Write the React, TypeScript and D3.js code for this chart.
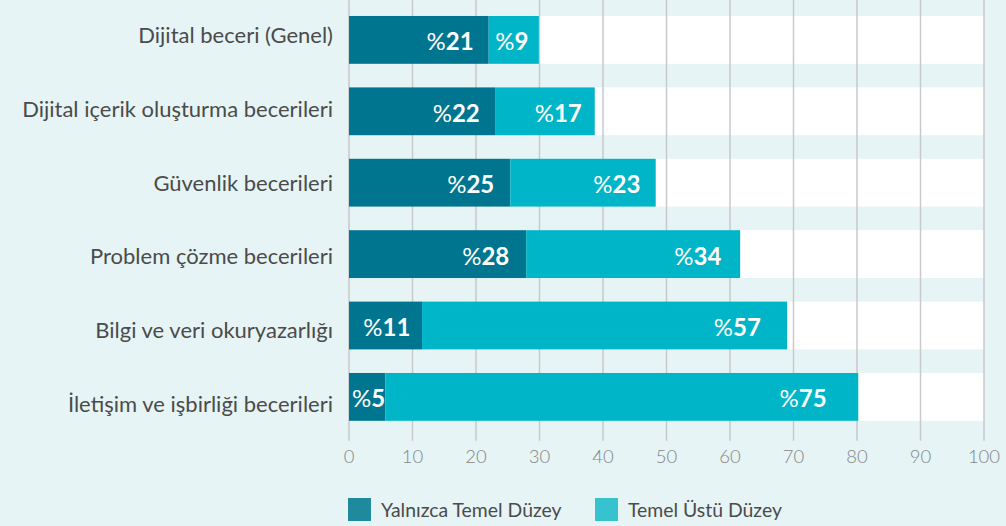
import React from "react";
import * as d3 from "d3";

const categories = [
  "Dijital beceri (Genel)",
  "Dijital içerik oluşturma becerileri",
  "Güvenlik becerileri",
  "Problem çözme becerileri",
  "Bilgi ve veri okuryazarlığı",
  "İletişim ve işbirliği becerileri",
];
const basicValues = [22.0, 23.0, 25.4, 27.9, 11.5, 5.7];
const aboveValues = [7.9, 15.7, 22.9, 33.7, 57.5, 74.5];
const basicLabels = ["21", "22", "25", "28", "11", "5"];
const aboveLabels = ["9", "17", "23", "34", "57", "75"];
const xTicks = [0, 10, 20, 30, 40, 50, 60, 70, 80, 90, 100];
const seriesNames = ["Yalnızca Temel Düzey", "Temel Üstü Düzey"];

const W = 1006;
const H = 526;
const FONT = "Lato, 'Open Sans', sans-serif";
const DARK = "#00758f";
const LIGHT = "#00b5c8";
const LEG_DARK = "#1f8a9e";
const LEG_LIGHT = "#36c2cf";

export default function App() {
  const x = d3.scaleLinear().domain([0, 100]).range([349, 984]);
  const y = d3
    .scaleBand<string>()
    .domain(categories)
    .range([4.2, 432.6])
    .paddingInner(0.33)
    .paddingOuter(0.165);
  const labelY = d3.scalePoint<string>().domain(categories).range([43.3, 411.7]);
  const bw = y.bandwidth();
  const plotBottom = (y(categories[categories.length - 1]) ?? 0) + bw;

  const label = (
    key: string,
    num: string,
    segStart: number,
    segEnd: number,
    cy: number
  ) => {
    const w = segEnd - segStart;
    const pad = 8 + 0.05 * w;
    const approxW = 14 + num.length * 13.5;
    const xe = segEnd - pad;
    const fits = xe - approxW >= segStart + 3;
    return (
      <text
        key={key}
        x={fits ? xe : segStart + 3}
        y={cy + 10.5}
        fill="#fff"
        fontSize={24}
        textAnchor={fits ? "end" : "start"}
        fontFamily={FONT}
      >
        <tspan>%</tspan>
        <tspan fontWeight={700}>{num}</tspan>
      </text>
    );
  };

  return (
    <svg
      width={W}
      height={H}
      style={{ position: "absolute", left: 0, top: 0, background: "#e6f4f5" }}
      fontFamily={FONT}
    >
      <rect x={0} y={0} width={W} height={H} fill="#e6f4f5" />
      {categories.map((c) => (
        <rect
          key={"band" + c}
          x={x(0)}
          y={y(c)}
          width={x(100) - x(0)}
          height={bw}
          fill="#ffffff"
        />
      ))}
      {xTicks.map((t) => (
        <line
          key={"g" + t}
          x1={x(t)}
          x2={x(t)}
          y1={0}
          y2={plotBottom + 20}
          stroke="#c9c9c9"
          strokeWidth={1.5}
        />
      ))}
      {categories.map((c, i) => {
        const y0 = y(c) ?? 0;
        return (
          <g key={"bar" + c}>
            <rect
              x={x(0)}
              y={y0}
              width={x(basicValues[i]) - x(0)}
              height={bw}
              fill={DARK}
            />
            <rect
              x={x(basicValues[i])}
              y={y0}
              width={x(basicValues[i] + aboveValues[i]) - x(basicValues[i])}
              height={bw}
              fill={LIGHT}
            />
          </g>
        );
      })}
      {categories.map((c, i) => {
        const cy = (y(c) ?? 0) + bw / 2;
        return (
          <g key={"lab" + c}>
            {label("b" + i, basicLabels[i], x(0), x(basicValues[i]), cy)}
            {label(
              "a" + i,
              aboveLabels[i],
              x(basicValues[i]),
              x(basicValues[i] + aboveValues[i]),
              cy
            )}
            <text
              x={333}
              y={labelY(c)}
              textAnchor="end"
              fontSize={22}
              fill="#4b4b4b"
            >
              {c}
            </text>
          </g>
        );
      })}
      {xTicks.map((t) => (
        <text
          key={"t" + t}
          x={x(t)}
          y={463}
          textAnchor="middle"
          fontSize={18.5}
          fill="#858585"
          fontWeight={300}
        >
          {t}
        </text>
      ))}
      {seriesNames.map((s, i) => {
        const lx = i === 0 ? 348 : 595;
        return (
          <g key={"leg" + s}>
            <rect
              x={lx}
              y={498}
              width={23}
              height={23}
              fill={i === 0 ? LEG_DARK : LEG_LIGHT}
            />
            <text x={lx + 33} y={517} fontSize={19.4} fill="#4b4b4b">
              {s}
            </text>
          </g>
        );
      })}
    </svg>
  );
}
